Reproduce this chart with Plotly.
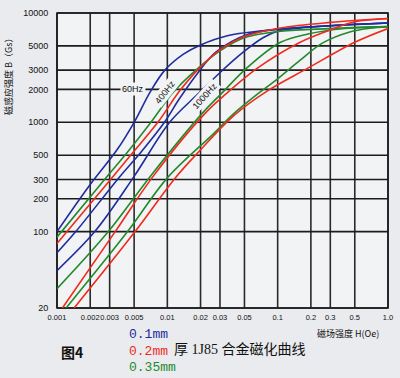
import numpy as np
import plotly.graph_objects as go

# ---- axis ticks ----
x_ticks = [0.001, 0.002, 0.003, 0.005, 0.01, 0.02, 0.03, 0.05, 0.1, 0.2, 0.3, 0.5, 1.0]
x_tick_labels = ["0.001", "0.002", "0.003", "0.005", "0.01", "0.02", "0.03", "0.05",
                 "0.1", "0.2", "0.3", "0.5", "1.0"]
y_ticks = [20, 100, 200, 300, 500, 1000, 2000, 3000, 5000, 10000]
y_tick_labels = ["20", "100", "200", "300", "500", "1000", "2000", "3000", "5000", "10000"]
x_range = [0.001, 1.0]
y_range = [20, 10000]

# ---- 0.1 mm (blue) ----
h_01_60 = [0.001, 0.002, 0.0035, 0.005, 0.007, 0.0095, 0.014, 0.02, 0.035, 0.1, 0.3, 1.0]
b_01_60 = [100, 270, 560, 1000, 1900, 3000, 4200, 5100, 6200, 7100, 7650, 8100]
h_01_400 = [0.001, 0.00148, 0.00372, 0.00574, 0.00942, 0.01285, 0.01875, 0.0275, 0.0547, 0.1, 0.3, 1.0]
b_01_400 = [64, 100, 320, 530, 1000, 1640, 2800, 4380, 6420, 7080, 7650, 8100]
h_01_1000 = [0.001, 0.0022, 0.005, 0.0105, 0.0188, 0.0306, 0.049, 0.0731, 0.1, 0.3, 1.0]
b_01_1000 = [44, 100, 320, 1000, 1800, 2900, 4400, 5900, 6800, 7650, 8100]

# ---- 0.2 mm (red) ----
h_02_60 = [0.001, 0.00306, 0.00481, 0.0082, 0.01285, 0.01875, 0.03, 0.05, 0.106, 0.3, 1.0]
b_02_60 = [78, 300, 520, 1000, 1920, 3000, 4600, 6100, 7300, 8200, 8900]
h_02_400 = [0.00112, 0.00337, 0.00743, 0.0222, 0.0338, 0.0655, 0.160, 0.30, 0.50, 1.0]
b_02_400 = [20, 100, 320, 1220, 1810, 3130, 5400, 7000, 8300, 8900]
h_02_1000 = [0.00143, 0.0051, 0.0118, 0.02, 0.04, 0.0782, 0.188, 0.5, 1.0]
b_02_1000 = [20, 100, 310, 560, 1150, 1900, 3130, 5400, 7210]

# ---- 0.35 mm (green) ----
h_035_60 = [0.001, 0.0027, 0.0044, 0.0071, 0.0114, 0.0188, 0.03, 0.049, 0.106, 0.3, 1.0]
b_035_60 = [89, 300, 540, 1000, 1900, 3100, 4500, 5900, 6800, 7200, 7500]
h_035_400 = [0.001, 0.00292, 0.0070, 0.0209, 0.0306, 0.0523, 0.1063, 0.188, 0.407, 1.0]
b_035_400 = [30, 100, 320, 1220, 1810, 3130, 5400, 6420, 7210, 7500]
h_035_1000 = [0.00121, 0.00436, 0.01, 0.026, 0.04, 0.065, 0.1, 0.16, 0.254, 0.45, 0.685, 1.0]
b_035_1000 = [20, 100, 310, 780, 1200, 1800, 2500, 3700, 5300, 6700, 7250, 7500]

blue = "#1f2c9e"
red = "#ee2b1c"
green = "#228a2c"

series = [
    (h_01_60, b_01_60, blue), (h_01_400, b_01_400, blue), (h_01_1000, b_01_1000, blue),
    (h_035_60, b_035_60, green), (h_035_400, b_035_400, green), (h_035_1000, b_035_1000, green),
    (h_02_60, b_02_60, red), (h_02_400, b_02_400, red), (h_02_1000, b_02_1000, red),
]

fig = go.Figure()
for h, b, c in series:
    fig.add_trace(go.Scatter(x=h, y=b, mode="lines",
                             line=dict(color=c, width=1.6, shape="spline", smoothing=1.0),
                             showlegend=False, hoverinfo="skip"))

plot_bg = "#f2f3f5"
grid = "#1c1c1c"

# grid lines as shapes in paper fractions of the log axes
lx0, lx1 = np.log10(x_range[0]), np.log10(x_range[1])
ly0, ly1 = np.log10(y_range[0]), np.log10(y_range[1])
shapes = []
for v in x_ticks:
    fx = (np.log10(v) - lx0) / (lx1 - lx0)
    shapes.append(dict(type="line", xref="paper", yref="paper", x0=fx, x1=fx,
                       y0=0, y1=1, layer="below", line=dict(color="#2a2a2a", width=1.6)))
for v in y_ticks:
    fy = (np.log10(v) - ly0) / (ly1 - ly0)
    shapes.append(dict(type="line", xref="paper", yref="paper", x0=0, x1=1,
                       y0=fy, y1=fy, layer="below", line=dict(color=grid, width=1.6)))
shapes.append(dict(type="rect", xref="paper", yref="paper", x0=0, x1=1, y0=0, y1=1,
                   layer="below", line=dict(color=grid, width=1.6)))

fig.update_xaxes(type="log", range=[lx0, lx1], tickvals=x_ticks, ticktext=x_tick_labels,
                 showgrid=False, zeroline=False, showline=False, automargin=False,
                 tickangle=0, ticks="outside", ticklen=2, tickcolor="rgba(0,0,0,0)",
                 tickfont=dict(family="Liberation Sans", size=7.5, color="#111"))
fig.update_yaxes(type="log", range=[ly0, ly1], tickvals=y_ticks, ticktext=y_tick_labels,
                 showgrid=False, zeroline=False, showline=False, automargin=False,
                 ticks="outside", ticklen=6, tickcolor="rgba(0,0,0,0)",
                 tickfont=dict(family="Liberation Sans", size=9, color="#111"))

def note(x, y, text, size, color="#111", family="Liberation Sans", ref="paper",
         xanchor="center", angle=0, bg=None):
    d = dict(x=x, y=y, xref=ref, yref=ref, text=text, showarrow=False,
             xanchor=xanchor, yanchor="middle", textangle=angle,
             font=dict(family=family, size=size, color=color))
    if bg:
        d.update(bgcolor=bg, borderpad=1)
    return d

ann = [
    note(np.log10(0.0049), np.log10(2000), "60Hz", 9, ref="x", bg=plot_bg),
    note(np.log10(0.0096), np.log10(1885), "400Hz", 9, ref="x", angle=-52, bg=plot_bg),
    note(np.log10(0.0218), np.log10(1740), "1000Hz", 9, ref="x", angle=-48, bg=plot_bg),
    note(-0.145, 0.79, "磁感应强度 B（Gs）", 9, family="Noto Sans CJK SC", angle=-90),
    note(0.879, -0.085, "磁场强度 H(Oe)", 9, family="Noto Sans CJK SC"),
    note(0.045, -0.149, "<b>图4</b>", 14, family="Noto Sans CJK SC"),
    note(0.2115, -0.0915, "0.1mm", 13, color=blue, family="Liberation Mono", xanchor="left"),
    note(0.2115, -0.1458, "0.2mm", 13, color=red, family="Liberation Mono", xanchor="left"),
    note(0.2115, -0.200, "0.35mm", 13, color=green, family="Liberation Mono", xanchor="left"),
    note(0.347, -0.142, "厚 1J85 合金磁化曲线", 14,
         family="Liberation Serif, Noto Sans CJK SC", xanchor="left"),
]
for a in ann[:3]:
    a["xref"], a["yref"] = "x", "y"

fig.update_layout(width=400, height=378, margin=dict(l=57, r=12, t=13, b=70),
                  paper_bgcolor="#e9ebee", plot_bgcolor=plot_bg,
                  annotations=ann, shapes=shapes)

fig.write_html("out.html", config={"displayModeBar": False},
               post_script="document.body.style.margin='0';")
